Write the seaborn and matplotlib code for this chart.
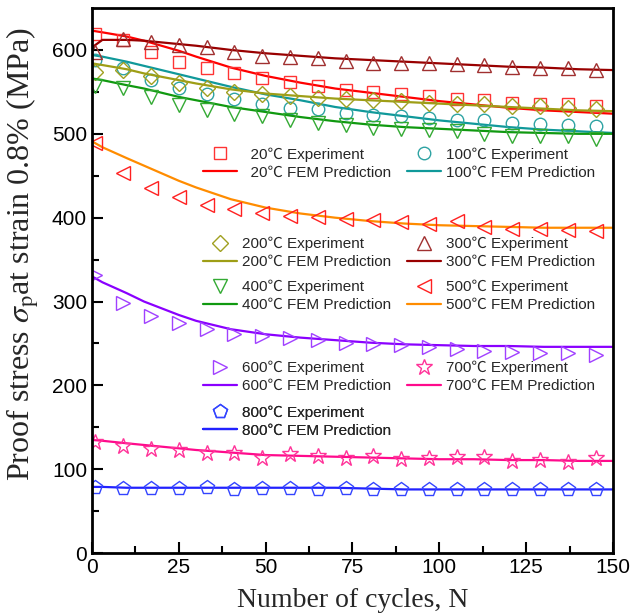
import numpy as np
import pandas as pd
import matplotlib
matplotlib.use("Agg")
import matplotlib.pyplot as plt
import seaborn as sns

# Experiment cycles and FEM cycles
exp_n = [1, 9, 17, 25, 33, 41, 49, 57, 65, 73, 81, 89, 97, 105, 113, 121, 129, 137, 145]
fem_n = [0, 3, 10, 15, 20, 25, 30, 40, 50, 60, 70, 80, 90, 100, 110, 120, 130, 140, 150]

temps = ["20", "100", "200", "300", "400", "500", "600", "700", "800"]

exp_20 = [619, 612, 598, 586, 579, 572, 566, 562, 557, 552, 550, 548, 545, 542, 540, 537, 536, 535, 533]
exp_100 = [588, 578, 564, 555, 547, 541, 535, 531, 529, 525, 523, 521, 519, 517, 516, 513, 512, 511, 509]
exp_200 = [574, 576, 569, 561, 555, 550, 548, 545, 543, 542, 540, 539, 537, 536, 535, 533, 533, 531, 530]
exp_300 = [598, 613, 610, 606, 603, 597, 593, 591, 590, 587, 585, 585, 584, 583, 582, 580, 578, 578, 576]
exp_400 = [557, 555, 544, 534, 528, 524, 521, 517, 513, 511, 507, 506, 505, 503, 500, 497, 497, 497, 494]
exp_500 = [489, 453, 435, 425, 415, 410, 406, 402, 401, 399, 397, 395, 393, 396, 389, 387, 387, 385, 384]
exp_600 = [332, 298, 283, 275, 267, 261, 259, 256, 254, 251, 249, 248, 246, 244, 241, 240, 239, 239, 236]
exp_700 = [132, 128, 124, 123, 119, 120, 114, 118, 116, 114, 116, 112, 113, 115, 115, 110, 111, 109, 114]
exp_800 = [79, 78, 78, 78, 79, 77, 78, 78, 77, 78, 76, 76, 77, 76, 76, 76, 76, 76, 76]

fem_20 = [623, 621, 616, 611, 605, 599, 592, 579, 569, 561, 554, 549, 544, 539, 535, 531, 528, 526, 524]
fem_100 = [594, 592, 586, 581, 576, 571, 566, 556, 547, 540, 532, 526, 521, 516, 512, 508, 505, 503, 501]
fem_200 = [584, 582, 577, 572, 568, 564, 560, 553, 548, 545, 542, 540, 538, 536, 534, 532, 530, 528, 527]
fem_300 = [603, 612, 612, 611, 609, 607, 605, 600, 596, 593, 590, 588, 586, 584, 582, 580, 579, 577, 576]
fem_400 = [566, 564, 558, 554, 549, 544, 540, 532, 526, 520, 515, 511, 508, 506, 504, 502, 501, 500, 500]
fem_500 = [491, 484, 471, 462, 453, 444, 436, 422, 412, 405, 400, 396, 393, 391, 390, 389, 388, 388, 388]
fem_600 = [330, 323, 310, 300, 292, 284, 277, 267, 261, 257, 254, 251, 249, 248, 247, 247, 246, 246, 246]
fem_700 = [135, 134, 131, 129, 127, 125, 123, 120, 117, 116, 115, 114, 113, 112, 112, 111, 111, 110, 110]
fem_800 = [79, 79, 78, 78, 78, 78, 78, 78, 78, 78, 78, 77, 76, 76, 76, 76, 76, 76, 76]

exp_all = [exp_20, exp_100, exp_200, exp_300, exp_400, exp_500, exp_600, exp_700, exp_800]
fem_all = [fem_20, fem_100, fem_200, fem_300, fem_400, fem_500, fem_600, fem_700, fem_800]

markers = ["s", "o", "D", "^", "v", "<", ">", "*", "p"]
marker_sizes = [9, 9, 8, 10, 10, 10, 10, 12, 10]
marker_colors = ["#FF3333", "#2EA3A3", "#A0A020", "#A03030", "#33AA33",
                 "#FF2020", "#A040FF", "#FF3399", "#3344FF"]
line_colors = ["#FF0000", "#10999A", "#9E9E16", "#990000", "#109910",
               "#FF8C00", "#8A00FF", "#FF0A8C", "#2222FF"]

sns.set_theme(style="ticks")
plt.rcParams["font.family"] = ["Liberation Sans", "Noto Sans CJK SC", "DejaVu Sans"]
plt.rcParams["mathtext.fontset"] = "stix"

fig = plt.figure(figsize=(6.3, 6.16), dpi=100)
ax = fig.add_axes([0.146, 0.102, 0.827, 0.885])

handles = []
for i, t in enumerate(temps):
    sns.lineplot(x=fem_n, y=fem_all[i], ax=ax, color=line_colors[i], linewidth=1.6)
    fem_line = ax.lines[-1]
    sns.lineplot(x=exp_n, y=exp_all[i], ax=ax, color=marker_colors[i], linestyle="",
                 marker=markers[i], markersize=marker_sizes[i], markerfacecolor="none",
                 markeredgecolor=marker_colors[i], markeredgewidth=1.0)
    exp_line = ax.lines[-1]
    handles.append((exp_line, fem_line))

ax.set_xlim(0, 150)
ax.set_ylim(0, 650)
ax.set_xticks(np.arange(0, 151, 25))
ax.set_xticks(np.arange(12.5, 150, 25), minor=True)
ax.set_yticks(np.arange(0, 601, 100))
ax.set_yticks(np.arange(50, 650, 100), minor=True)
ax.tick_params(which="both", direction="in", width=1.5, labelsize=15, colors="black")
ax.tick_params(which="major", length=8)
ax.tick_params(which="minor", length=5)
for s in ax.spines.values():
    s.set_linewidth(2)
    s.set_color("black")

ax.set_xlabel("Number of cycles, N", family="Liberation Serif", fontsize=20, labelpad=8)
ax.set_ylabel(r"Proof stress $\sigma_{\mathrm{p}}$at strain 0.8% (MPa)",
              family="Liberation Serif", fontsize=23)
ax.yaxis.set_label_coords(-0.098, 0.548)

# legend pairs: (x frac, y frac of row-centre)
leg_pos = [(0.213, 0.715), (0.605, 0.715), (0.213, 0.551), (0.605, 0.551),
           (0.213, 0.472), (0.605, 0.472), (0.213, 0.323), (0.605, 0.323),
           (0.213, 0.242)]
for i, t in enumerate(temps):
    lab = ("  " + t) if len(t) == 2 else t
    leg = ax.legend(handles=list(handles[i]),
                    labels=[lab + "℃ Experiment", lab + "℃ FEM Prediction"],
                    loc="center left", bbox_to_anchor=leg_pos[i], frameon=False,
                    fontsize=11, handlelength=2.2, handletextpad=0.35,
                    labelspacing=0.25, borderpad=0, borderaxespad=0)
    ax.add_artist(leg)

fig.savefig("out.png", dpi=100)
